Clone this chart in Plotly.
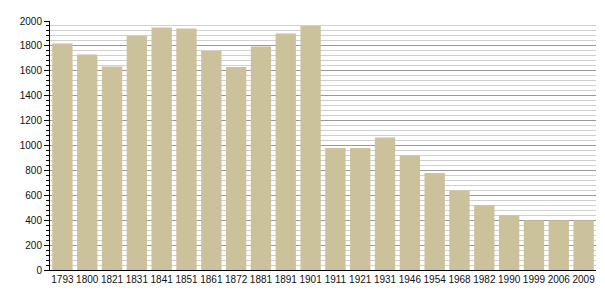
import plotly.graph_objects as go

years = ["1793", "1800", "1821", "1831", "1841", "1851", "1861", "1872", "1881", "1891",
         "1901", "1911", "1921", "1931", "1946", "1954", "1968", "1982", "1990", "1999",
         "2006", "2009"]
population = [1820, 1730, 1635, 1880, 1947, 1940, 1760, 1630, 1795, 1900,
              1960, 980, 980, 1065, 920, 780, 638, 520, 440, 400,
              400, 400]
y_ticks = list(range(0, 2001, 200))

fig = go.Figure(go.Bar(
    x=years, y=population,
    marker=dict(color="#CBC19B", line=dict(width=0)),
    hoverinfo="x+y",
))

fig.update_layout(
    width=605, height=300,
    margin=dict(l=50, r=9, t=21, b=30, autoexpand=False),
    paper_bgcolor="white", plot_bgcolor="white",
    bargap=0.18,
    showlegend=False,
    font=dict(family="Liberation Sans, Arial, sans-serif", size=10, color="#111"),
)
fig.update_xaxes(
    type="category",
    showline=True, linecolor="black", linewidth=1,
    ticks="", showgrid=False,
    tickangle=0, automargin=False,
    tickfont=dict(size=10),
)
fig.update_yaxes(
    range=[0, 2000],
    tickvals=y_ticks,
    showline=True, linecolor="black", linewidth=1,
    ticks="outside", ticklen=5, tickcolor="black",
    showgrid=True, gridcolor="#999999", gridwidth=1,
    zeroline=False, automargin=False,
    tickfont=dict(size=10),
    minor=dict(dtick=40, showgrid=True, gridcolor="#d0d0d0", gridwidth=1,
               ticks="outside", ticklen=3, tickcolor="black"),
)

fig.write_html("out.html")
